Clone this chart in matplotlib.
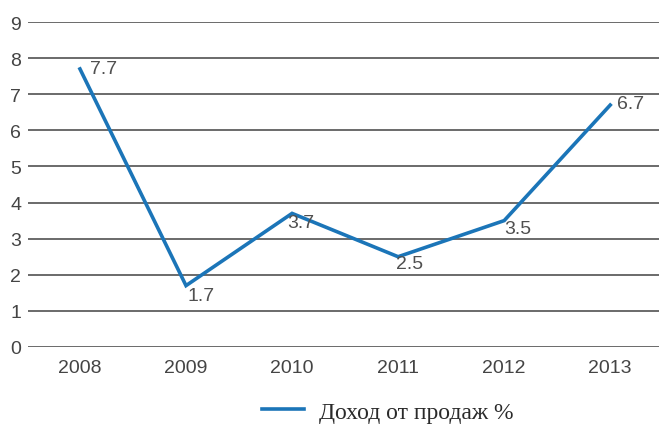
import matplotlib.pyplot as plt

years = ["2008", "2009", "2010", "2011", "2012", "2013"]
income = [7.7, 1.7, 3.7, 2.5, 3.5, 6.7]
series_name = "Доход от продаж %"

# label offsets in pixels (dx, dy) from each point
label_offsets = [(10, 0), (1, -10), (-5, -9), (-2, -7), (0, -8), (7, 2)]

W, H = 659, 427
fig = plt.figure(figsize=(W / 100, H / 100), dpi=100)
ax = fig.add_axes([28 / W, 1 - 348 / H, 1 - 28 / W, (348 - 23) / H])

sans = ["Liberation Sans", "DejaVu Sans"]
x = list(range(len(years)))
line, = ax.plot(x, income, color="#1b75b8", linewidth=2.6, solid_joinstyle="miter",
                label=series_name, zorder=3)

for xi, v, (dx, dy) in zip(x, income, label_offsets):
    ax.annotate(f"{v:.1f}", (xi, v), xytext=(dx, dy), textcoords="offset pixels",
                ha="left", va="center", fontsize=14, color="#505050", family=sans)

ax.set_xlim(-0.49, 5.46)
ax.set_ylim(0, 9)
ax.set_yticks(range(10))
ax.set_xticks(x)
ax.set_xticklabels(years)
for s in ax.spines.values():
    s.set_visible(False)
ax.grid(axis="y", color="#6a6a6a", linewidth=1.4)
ax.set_axisbelow(True)
ax.tick_params(axis="both", length=0, labelsize=14, labelcolor="#444444")
ax.tick_params(axis="y", pad=5)
ax.tick_params(axis="x", pad=9)
for t in ax.get_xticklabels() + ax.get_yticklabels():
    t.set_family(sans)

leg = fig.legend(handles=[line], loc="center", bbox_to_anchor=(388 / W, 1 - 413 / H),
                 frameon=False, prop={"family": "Liberation Serif", "size": 17},
                 handlelength=1.75, handletextpad=0.65)
for t in leg.get_texts():
    t.set_color("#2a2a2a")

fig.savefig("out.png", dpi=100)
